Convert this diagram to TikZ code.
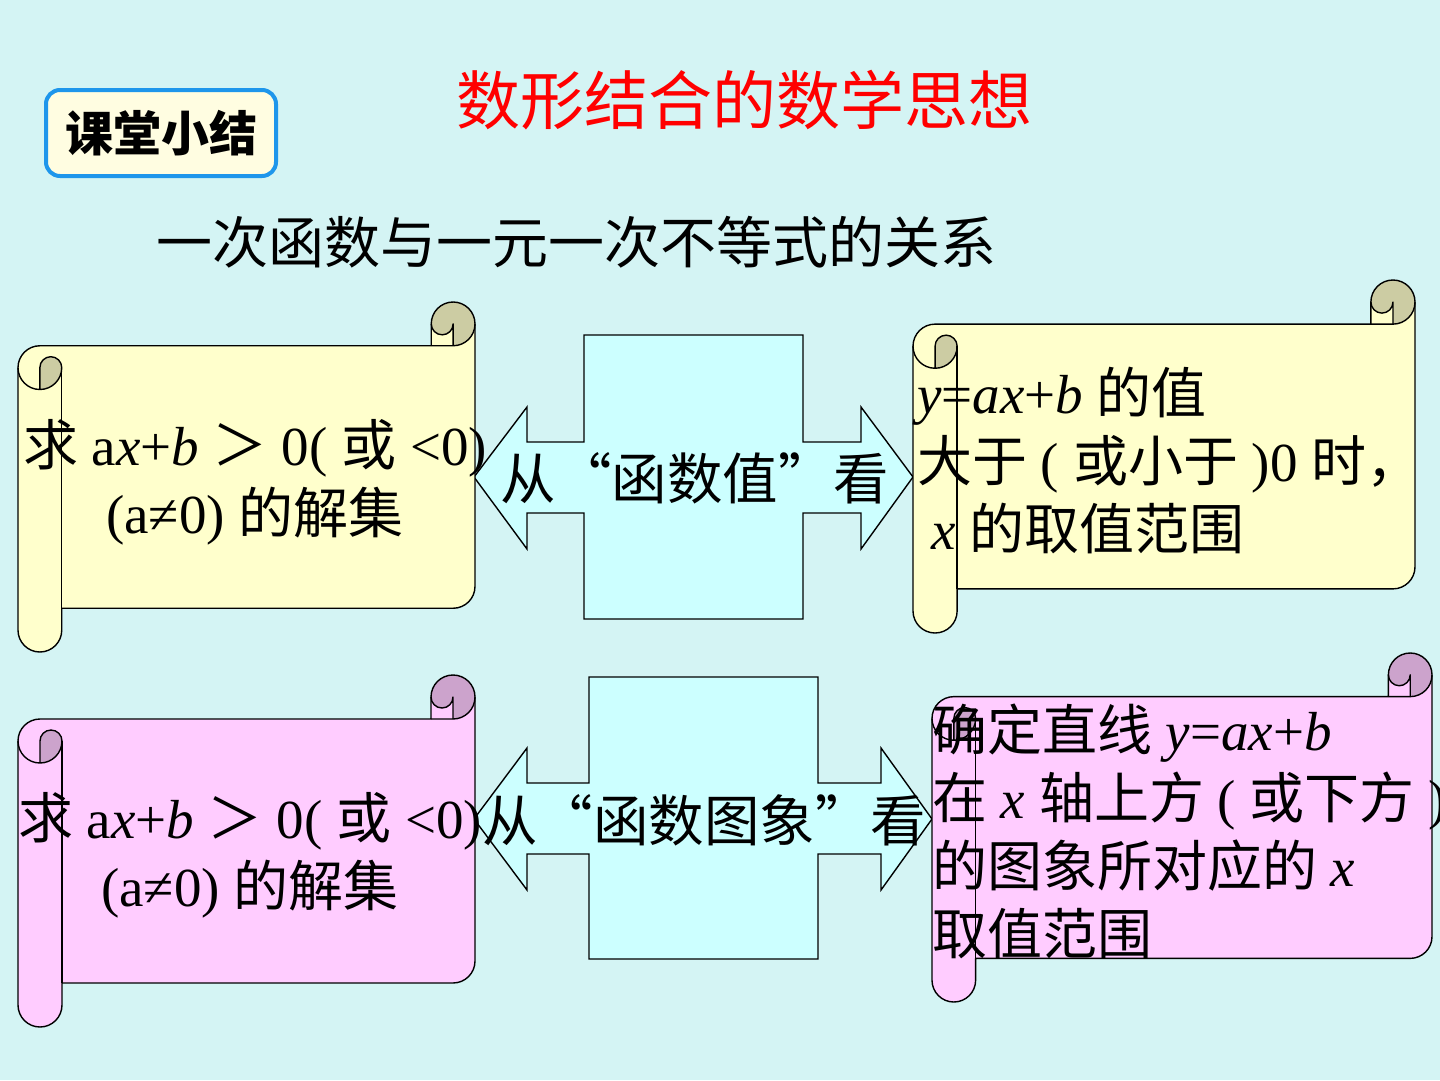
\documentclass[tikz,border=0pt]{standalone}
\usepackage{fontspec}
\setmainfont{Liberation Serif}
\newfontfamily\cjk{Noto Sans CJK SC}
\usetikzlibrary{positioning}
\definecolor{SlideBg}{RGB}{212,244,244}
\definecolor{ScrollYellow}{RGB}{255,255,204}
\definecolor{CurlYellow}{RGB}{204,204,163}
\definecolor{ScrollPink}{RGB}{255,204,255}
\definecolor{CurlPink}{RGB}{204,163,204}
\definecolor{CalloutCyan}{RGB}{204,255,255}
\definecolor{TagBlue}{RGB}{30,150,235}
\definecolor{TagFill}{RGB}{255,253,225}
\definecolor{TitleRed}{RGB}{255,0,0}

\newcommand{\zh}[1]{{\cjk #1}}
% horizontal scroll: left, top, right, bottom, paper, curl
\newcommand{\hscroll}[6]{%
  \pgfmathsetmacro\scA{0.125*min(#3-#1,#4-#2)}%
  \pgfmathsetmacro\scB{\scA/2}%
  \pgfmathsetmacro\scC{\scA/4}%
  \fill[#5] (#1,#2+1.5*\scA) arc[start angle=180,end angle=270,radius=\scB]
    -- (#3-\scA,#2+\scA) -- (#3-\scA,#2+\scB) arc[start angle=180,end angle=360,radius=\scB]
    -- (#3,#4-1.5*\scA) arc[start angle=0,end angle=90,radius=\scB]
    -- (#1+\scA,#4-\scA) -- (#1+\scA,#4-\scB) arc[start angle=0,end angle=180,radius=\scB] -- cycle;
  \fill[#6] (#3-\scB,#2+\scA) arc[start angle=90,end angle=-180,radius=\scB]
    arc[start angle=180,end angle=0,radius=\scC] -- cycle;
  \fill[#6] (#1+\scB,#2+2*\scA) arc[start angle=90,end angle=0,radius=\scB]
    arc[start angle=0,end angle=-180,radius=\scC] -- cycle;
  \draw[scrollline] (#1,#2+1.5*\scA) arc[start angle=180,end angle=270,radius=\scB]
    -- (#3-\scA,#2+\scA) -- (#3-\scA,#2+\scB) arc[start angle=180,end angle=360,radius=\scB]
    -- (#3,#4-1.5*\scA) arc[start angle=0,end angle=90,radius=\scB]
    -- (#1+\scA,#4-\scA) -- (#1+\scA,#4-\scB) arc[start angle=0,end angle=180,radius=\scB] -- cycle;
  \draw[scrollline] (#3-\scA,#2+\scA) -- (#3-\scB,#2+\scA) arc[start angle=90,end angle=0,radius=\scB];
  \draw[scrollline] (#3-\scB,#2+\scA) -- (#3-\scB,#2+\scB) arc[start angle=0,end angle=180,radius=\scC];
  \draw[scrollline] (#1+\scB,#2+2*\scA) -- (#1+\scB,#2+1.5*\scA)
    arc[start angle=180,end angle=360,radius=\scC] arc[start angle=0,end angle=180,radius=\scB];
  \draw[scrollline] (#1+\scA,#2+1.5*\scA) -- (#1+\scA,#4-\scA);
}

\begin{document}
\begin{tikzpicture}[
    x=1pt,y=-1pt,
    scrollline/.style={line width=1.4pt,black,line join=round},
    callout/.style={draw,fill=CalloutCyan,line width=1.4pt,line join=miter},
    body/.style={font=\fontsize{55}{68}\selectfont,inner sep=0pt},
    view/.style={font=\cjk\fontsize{55.5}{55.5}\selectfont,inner sep=0pt}
  ]
    \useasboundingbox (0,0) rectangle (1440,1080);
    \fill[SlideBg] (0,0) rectangle (1440,1080);

    \node[draw=TagBlue,line width=4pt,fill=TagFill,rounded corners=14pt,minimum width=230pt,minimum height=86pt,
          font=\cjk\bfseries\fontsize{48}{48}\selectfont] (tag) at (161,133) {课堂小结};
    \node[font=\cjk\fontsize{64}{64}\selectfont,text=TitleRed] (title) at (744,100) {数形结合的数学思想};
    \node[font=\cjk\fontsize{56}{56}\selectfont] (topic) at (576,242) {一次函数与一元一次不等式的关系};

    % left-right callouts
    \draw[callout] (474,477) -- (527,407) -- (527,442) -- (584,442) -- (584,335) -- (803,335) -- (803,442)
      -- (861,442) -- (861,407) -- (913,477) -- (861,549) -- (861,513) -- (803,513) -- (803,619)
      -- (584,619) -- (584,513) -- (527,513) -- (527,549) -- cycle;
    \draw[callout] (474,819) -- (527,748) -- (527,783) -- (589,783) -- (589,677) -- (818,677) -- (818,783)
      -- (881,783) -- (881,748) -- (932,819) -- (881,890) -- (881,854) -- (818,854) -- (818,959)
      -- (589,959) -- (589,854) -- (527,854) -- (527,890) -- cycle;

    % scrolls
    \hscroll{18}{302}{475}{652}{ScrollYellow}{CurlYellow}
    \hscroll{913}{280}{1415}{633}{ScrollYellow}{CurlYellow}
    \hscroll{18}{675}{475}{1027}{ScrollPink}{CurlPink}
    \hscroll{932}{653}{1432}{1002}{ScrollPink}{CurlPink}

    \node[view] (value) at (695,478) {从“函数值”看};
    \node[view] (graph) at (704,820) {从“函数图象”看};

    \node[body,align=center] (solve1) at (255,482)
      {\zh{求} a\textit{x}+\textit{b} \zh{＞} 0( \zh{或} <0)\\(a≠0) \zh{的解集}};
    \node[body,align=left,anchor=west] (above) at (917,460)
      {\textit{y}=\textit{ax}+\textit{b} \zh{的值}\\\zh{大于} ( \zh{或小于} )0 \zh{时，}\\\hspace*{14pt}\textit{x} \zh{的取值范围}};
    \node[body,align=center] (solve2) at (250,855)
      {\zh{求} a\textit{x}+\textit{b} \zh{＞} 0( \zh{或} <0)\\(a≠0) \zh{的解集}};
    \node[body,align=left,anchor=west] (line) at (932,831)
      {\zh{确定直线} \textit{y}=\textit{ax}+\textit{b}\\\zh{在} \textit{x} \zh{轴上方} ( \zh{或下方} )\\\zh{的图象所对应的} \textit{x}\\\zh{取值范围}};
\end{tikzpicture}
\end{document}
